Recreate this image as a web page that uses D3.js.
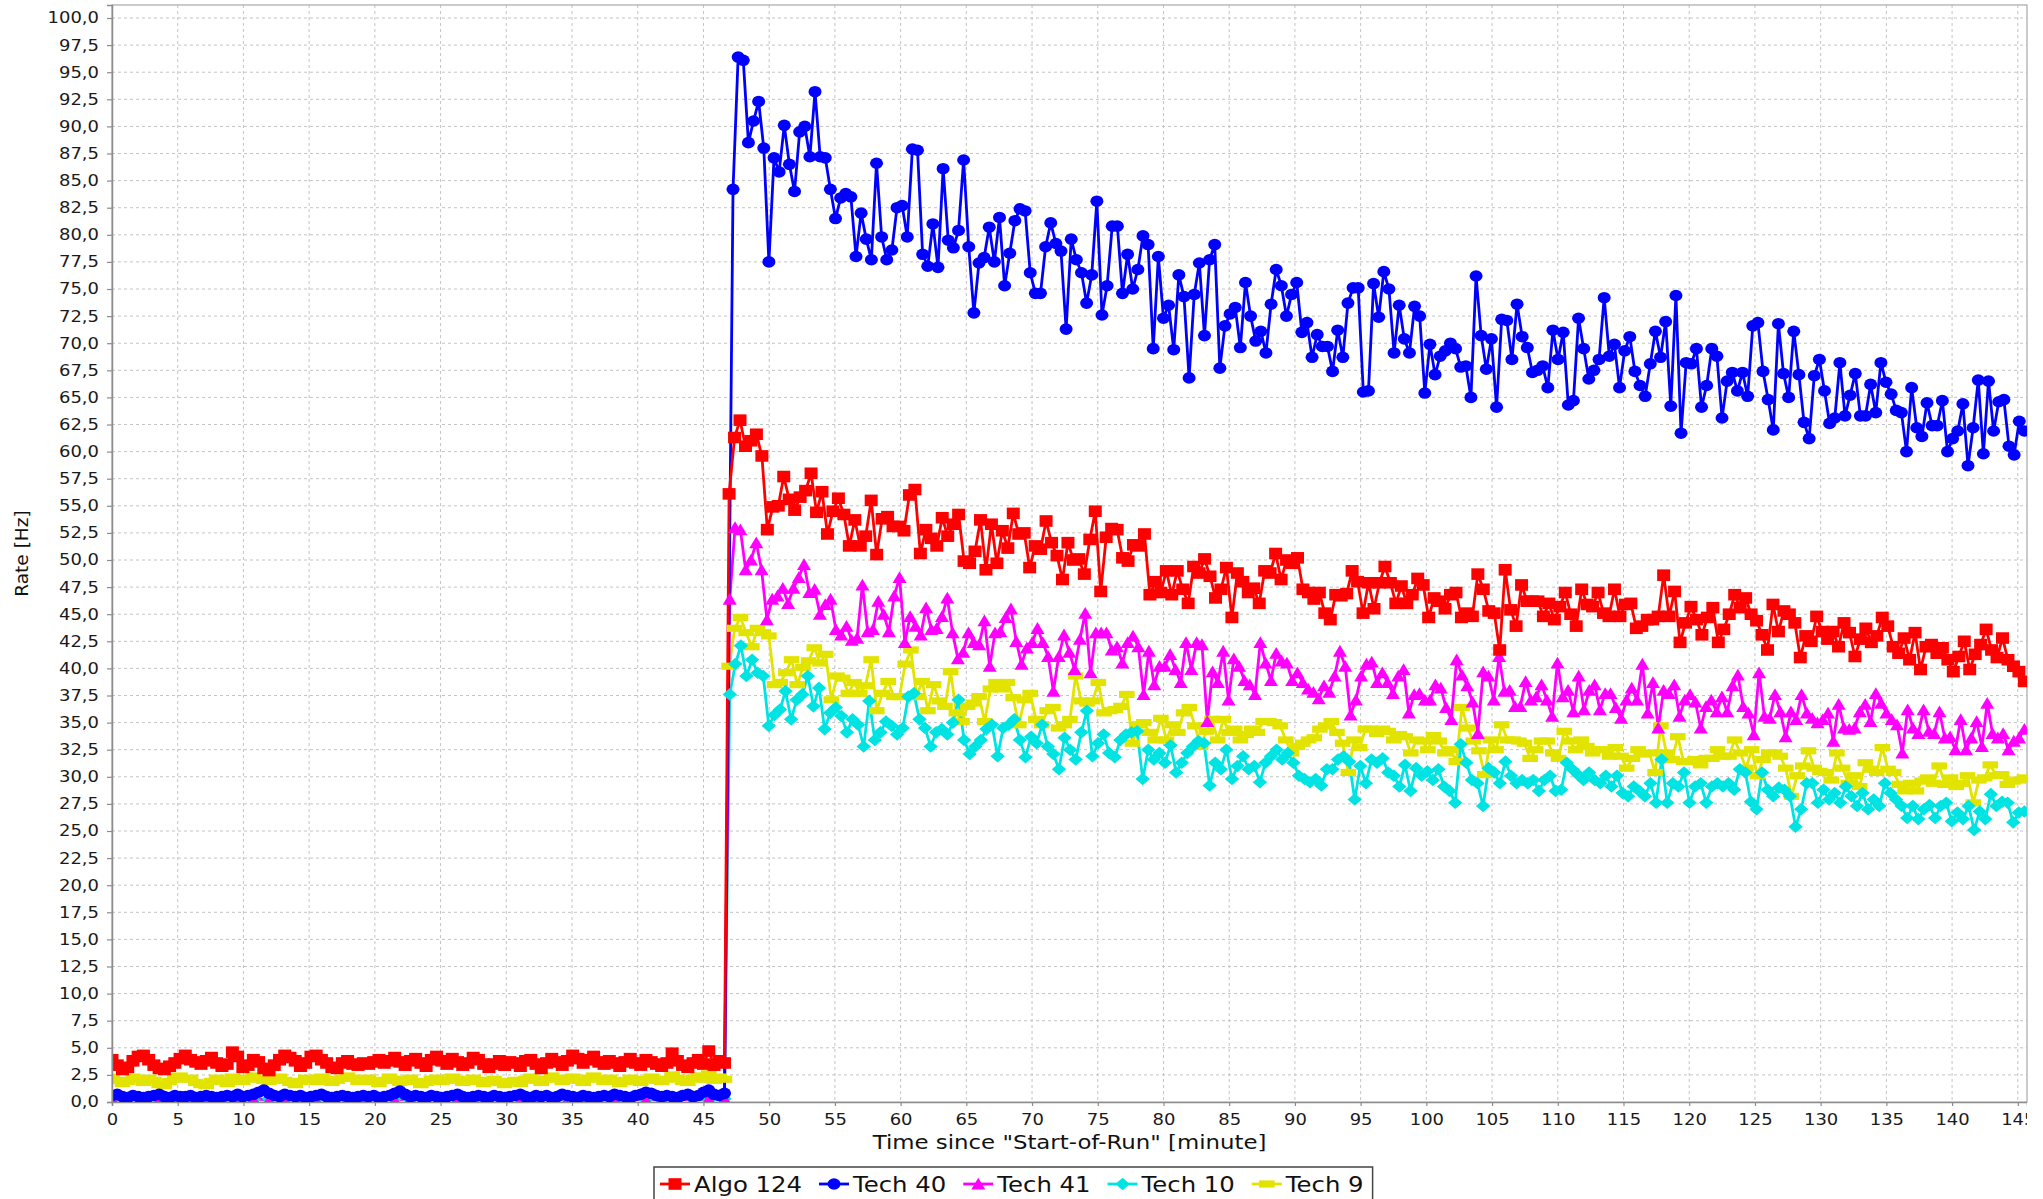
<!DOCTYPE html>
<html>
<head>
<meta charset="utf-8">
<script src="https://cdn.jsdelivr.net/npm/d3@7"></script>
<style>
  body { margin: 0; background: #fff; }
  svg { display: block; font-family: "DejaVu Sans", sans-serif; }
</style>
</head>
<body>
<svg id="chart"></svg>
<script>
// series names and tick labels
const seriesNames = ["Algo 124", "Tech 40", "Tech 41", "Tech 10", "Tech 9"]
const xTicks = d3.range(0, 146, 5)
const yTicks = d3.range(0, 100.01, 2.5)

// time (minute) where the low part ends and where each series' high part starts
const preEnd = 46.6
const postStart = [46.95, 47.25, 47.0, 47.0, 46.95]
const runEnd = 145.5

// Algo 124
const algo124Pre = [3.9, 3.4, 3.0, 3.2, 3.8, 4.2, 4.3, 3.9, 3.4, 3.1, 3.0, 3.3, 3.6, 4.0, 4.3, 3.9, 3.7, 3.5, 3.8, 4.1, 3.6, 3.3, 3.5, 4.6, 4.2, 3.2, 3.4, 3.9, 3.7, 3.1, 2.9, 3.4, 3.9, 4.3, 4.1, 3.8, 3.3, 3.6, 4.2, 4.3, 3.9, 3.6, 3.2, 3.1, 3.6, 3.8, 3.5, 3.4, 3.6, 3.5, 3.7, 3.9, 3.6, 3.8, 4.1, 3.7, 3.4, 3.8, 4.0, 3.6, 3.3, 3.9, 4.2, 3.8, 3.5, 4.0, 3.7, 3.4, 3.6, 4.1, 3.9, 3.5, 3.2, 3.5, 3.8, 3.4, 3.7, 3.6, 3.3, 3.8, 3.9, 3.5, 3.1, 3.6, 4.0, 3.7, 3.4, 3.8, 4.3, 4.0, 3.6, 3.9, 4.2, 3.7, 3.5, 3.8, 3.6, 3.3, 3.7, 4.0, 3.6, 3.4, 3.9, 3.7, 3.5, 3.3, 3.6, 4.5, 3.8, 3.4, 3.2, 3.6, 3.9, 3.5, 4.7, 3.4, 3.8, 3.6]
const algo124Post = [56.1, 61.3, 62.9, 60.5, 61.0, 61.6, 59.6, 52.8, 54.9, 55.0, 57.7, 55.6, 54.6, 55.8, 56.4, 58.0, 54.4, 56.3, 52.4, 54.5, 55.7, 54.2, 51.3, 53.7, 51.3, 52.2, 55.5, 50.5, 53.8, 54.0, 53.1, 53.1, 52.7, 56.0, 56.5, 50.6, 52.8, 52.0, 51.3, 53.9, 52.2, 53.3, 54.2, 49.9, 49.7, 50.8, 53.7, 49.1, 53.3, 49.7, 52.7, 51.1, 54.3, 52.4, 52.5, 49.3, 51.3, 51.0, 53.6, 51.6, 50.4, 48.2, 51.6, 50.0, 50.1, 48.7, 51.9, 54.5, 47.1, 52.1, 52.9, 52.8, 50.2, 49.9, 51.4, 51.3, 52.4, 46.8, 48.0, 47.0, 49.0, 46.8, 49.0, 47.3, 46.0, 49.4, 48.8, 50.1, 48.5, 46.5, 47.3, 49.3, 44.7, 48.8, 48.0, 47.0, 47.4, 46.0, 49.0, 48.8, 50.6, 48.2, 50.0, 49.7, 50.2, 47.3, 47.0, 46.4, 47.0, 45.1, 44.5, 46.8, 46.7, 46.9, 49.0, 48.0, 45.1, 47.9,
  45.5, 47.9, 49.4, 47.9, 46.0, 47.6, 46.0, 46.8, 48.3, 47.7, 44.7, 46.5, 46.2, 45.5, 46.8, 47.0, 44.7, 45.1, 44.8, 48.7, 47.3, 45.3, 45.1, 41.7, 49.1, 45.4, 43.9, 47.7, 46.2, 46.2, 46.2, 44.8, 46.0, 44.5, 45.7, 47.0, 45.0, 43.9, 47.3, 45.9, 45.7, 47.0, 45.1, 44.8, 47.3, 44.8, 45.9, 46.0, 43.7, 43.9, 44.5, 44.5, 44.8, 48.6, 44.8, 47.1, 42.4, 44.2, 45.7, 44.5, 43.1, 44.7, 45.6, 42.4, 43.6, 45.0, 46.8, 45.6, 46.5, 45.0, 44.4, 43.1, 41.7, 45.9, 43.4, 45.3, 45.0, 44.2, 41.0, 43.0, 42.5, 44.8, 43.4, 42.7, 43.4, 42.0, 44.2, 43.3, 41.1, 42.7, 43.7, 42.4, 43.0, 44.7, 43.9, 42.0, 41.4, 42.8, 40.8, 43.3, 39.9, 42.0, 42.2, 41.4, 41.9, 40.8, 39.7, 41.1, 42.5, 39.9, 41.3, 42.2, 43.6, 41.7, 41.0, 42.8, 40.8, 40.2, 39.7, 38.8]

// Tech 40
const tech40Pre = [0.6, 0.7, 0.5, 0.4, 0.6, 0.5, 0.4, 0.5, 0.6, 0.7, 0.5, 0.4, 0.6, 0.5, 0.5, 0.6, 0.4, 0.5, 0.6, 0.5, 0.4, 0.5, 0.6, 0.5, 0.7, 0.5, 0.6, 0.7, 0.9, 1.1, 0.8, 0.6, 0.5, 0.7, 0.6, 0.5, 0.6, 0.4, 0.5, 0.6, 0.7, 0.5, 0.4, 0.5, 0.6, 0.5, 0.4, 0.5, 0.6, 0.5, 0.6, 0.4, 0.5, 0.6, 0.8, 1.0, 0.7, 0.5, 0.6, 0.5, 0.4, 0.6, 0.5, 0.4, 0.5, 0.6, 0.7, 0.5, 0.4, 0.5, 0.6, 0.5, 0.4, 0.6, 0.5, 0.4, 0.5, 0.6, 0.7, 0.5, 0.4, 0.6, 0.5, 0.6, 0.4, 0.5, 0.7, 0.6, 0.5, 0.4, 0.6, 0.5, 0.4, 0.5, 0.6, 0.5, 0.7, 0.6, 0.5, 0.4, 0.6, 0.7, 0.9, 0.8, 0.6, 0.5, 0.6, 0.5, 0.4, 0.6, 0.7, 0.5, 0.6, 0.9, 1.1, 0.7, 0.6, 0.8]
const tech40Post = [84.2, 96.4, 96.1, 88.5, 90.5, 92.3, 88.0, 77.5, 87.1, 85.8, 90.1, 86.5, 84.0, 89.5, 90.0, 87.2, 93.2, 87.2, 87.1, 84.2, 81.5, 83.4, 83.8, 83.5, 78.0, 82.0, 79.6, 77.7, 86.6, 79.8, 77.7, 78.6, 82.5, 82.7, 79.8, 87.9, 87.8, 78.2, 77.1, 81.0, 77.0, 86.1, 79.5, 78.8, 80.4, 86.9, 78.9, 72.8, 77.4, 77.9, 80.7, 77.5, 81.6, 75.3, 78.3, 81.3, 82.4, 82.2, 76.5, 74.6, 74.6, 78.9, 81.1, 79.2, 78.5, 71.3, 79.6, 77.7, 76.5, 73.7, 76.3, 83.1, 72.6, 75.3, 80.8, 80.8, 74.6, 78.2, 75.0, 76.8, 79.9, 79.1, 69.5, 78.0, 72.3, 73.5, 69.4, 76.3, 74.3, 66.8, 74.5, 77.4, 70.7, 77.7, 79.1, 67.7, 71.6, 72.7, 73.3, 69.6, 75.6, 72.5, 70.2, 71.1, 69.1, 73.6, 76.8, 75.3, 72.5, 74.5, 75.6, 71.0, 71.9, 68.7, 70.8, 69.7, 69.7, 67.4, 71.2, 68.7, 73.7, 75.1, 75.1, 65.5, 65.6, 75.5, 72.4, 76.6,
  75.0, 69.1, 73.5, 70.4, 69.1, 73.4, 72.5, 65.4, 69.9, 67.1, 68.8, 69.3, 70.0, 69.5, 67.8, 67.9, 65.0, 76.2, 70.7, 67.6, 70.4, 64.1, 72.2, 72.1, 68.5, 73.6, 70.6, 69.6, 67.3, 67.5, 67.9, 65.9, 71.2, 68.5, 71.0, 64.3, 64.7, 72.3, 69.5, 66.7, 67.5, 68.5, 74.2, 68.8, 69.9, 65.9, 69.3, 70.6, 67.4, 66.1, 65.1, 68.1, 71.1, 68.7, 72.0, 64.2, 74.4, 61.7, 68.2, 68.1, 69.5, 64.1, 66.1, 69.5, 68.8, 63.1, 66.5, 67.3, 65.6, 67.3, 65.1, 71.6, 71.9, 67.4, 64.8, 62.0, 71.8, 67.2, 65.0, 71.1, 67.1, 62.7, 61.2, 67.0, 68.5, 65.6, 62.6, 63.1, 68.2, 63.3, 65.2, 67.2, 63.3, 63.3, 66.2, 63.6, 68.2, 66.4, 65.3, 63.8, 63.6, 60.0, 65.9, 62.2, 61.4, 64.5, 62.4, 62.4, 64.7, 60.0, 61.2, 61.9, 64.4, 58.7, 62.2, 66.6, 59.8, 66.5, 61.9, 64.6, 64.8, 60.5, 59.7, 62.8, 61.9]

// Tech 41
const tech41Pre = [0.3, 0.2, 0.3, 0.2, 0.3, 0.4, 0.2, 0.3, 0.2, 0.3, 0.2, 0.3, 0.3, 0.2, 0.4, 0.3, 0.2, 0.3, 0.2, 0.3, 0.3, 0.2, 0.3, 0.4, 0.2, 0.3, 0.2, 0.3, 0.3, 0.2, 0.3, 0.2, 0.4, 0.3, 0.2, 0.3, 0.3, 0.2, 0.3, 0.3]
const tech41Post = [46.4, 53.0, 52.8, 49.1, 50.0, 51.6, 49.1, 44.5, 46.4, 46.7, 47.4, 46.0, 47.4, 48.4, 49.6, 47.0, 47.3, 45.0, 45.9, 46.4, 43.6, 43.1, 43.9, 42.6, 42.8, 47.7, 43.4, 43.6, 46.2, 45.0, 43.4, 46.7, 48.4, 42.4, 44.8, 43.9, 43.1, 45.6, 43.6, 43.7, 44.8, 46.5, 43.3, 40.9, 41.5, 43.3, 42.4, 42.2, 44.4, 40.2, 43.3, 43.4, 44.7, 45.5, 42.5, 40.4, 41.9, 42.4, 43.7, 42.4, 41.1, 37.9, 41.1, 43.1, 41.5, 39.9, 42.7, 45.1, 39.6, 43.3, 43.3, 43.3, 41.7, 42.0, 40.5, 42.4, 43.0, 42.0, 37.6, 41.6, 38.5, 40.2, 40.2, 41.3, 39.9, 38.7, 42.4, 39.9, 42.4, 42.2, 35.1, 39.7, 38.7, 41.6, 37.1, 40.9, 40.2, 38.9, 38.5, 37.6, 42.4, 40.5, 38.9, 41.4, 40.7, 40.5, 38.9, 39.6, 38.7, 38.1, 37.8, 37.2, 38.4, 37.8, 39.3, 41.6, 40.2, 35.7, 37.1,
  39.3, 40.4, 40.6, 38.7, 39.6, 38.7, 37.7, 39.3, 39.9, 35.9, 37.6, 37.7, 37.1, 37.1, 38.5, 38.2, 36.4, 35.3, 40.8, 39.4, 38.4, 36.9, 34.0, 39.7, 39.3, 37.1, 41.1, 37.9, 38.0, 36.5, 36.5, 38.8, 37.1, 37.4, 38.5, 37.1, 35.6, 40.5, 37.4, 38.0, 36.0, 39.3, 36.2, 38.0, 38.5, 36.2, 37.7, 37.7, 36.4, 35.4, 37.1, 38.2, 37.1, 40.4, 35.9, 38.7, 34.5, 38.0, 37.7, 38.5, 35.6, 37.1, 37.6, 36.9, 34.5, 36.5, 37.1, 36.0, 37.4, 36.0, 38.4, 39.4, 36.5, 35.9, 33.9, 39.6, 35.6, 35.4, 37.6, 36.0, 33.7, 36.0, 35.3, 37.6, 35.9, 35.4, 35.0, 35.3, 35.9, 33.3, 36.7, 34.5, 34.4, 34.5, 36.0, 36.7, 35.1, 37.7, 36.8, 35.9, 35.3, 34.8, 32.2, 36.2, 34.5, 34.0, 36.2, 34.2, 34.0, 36.0, 33.6, 33.7, 32.5, 35.3, 32.5, 33.6, 35.1, 32.8, 36.8, 34.0, 33.6, 34.0, 32.5, 33.3, 33.6, 34.4]

// Tech 10
const tech10Pre = [0.2, 0.3, 0.2, 0.2, 0.3, 0.2, 0.3, 0.3, 0.2, 0.2, 0.3, 0.2, 0.3, 0.2, 0.3, 0.3, 0.2, 0.2, 0.3, 0.2, 0.3, 0.2, 0.2, 0.3, 0.3, 0.2, 0.3, 0.2, 0.2, 0.3, 0.2, 0.3, 0.3, 0.2, 0.2, 0.3, 0.2, 0.3, 0.2, 0.3]
const tech10Post = [37.6, 40.4, 42.1, 39.3, 40.8, 39.6, 39.3, 34.7, 35.7, 36.2, 37.9, 35.3, 37.1, 37.6, 39.3, 36.5, 38.2, 34.4, 35.9, 36.4, 35.6, 34.1, 35.3, 34.8, 32.8, 37.0, 33.4, 34.1, 35.1, 34.7, 33.9, 34.5, 37.4, 37.7, 35.3, 34.5, 32.8, 34.1, 34.4, 33.9, 35.0, 37.1, 33.4, 32.1, 32.8, 33.4, 34.4, 34.8, 31.9, 34.5, 34.8, 35.3, 33.4, 31.8, 33.7, 33.1, 34.8, 32.8, 32.1, 30.7, 33.6, 32.5, 31.6, 34.1, 36.1, 31.9, 33.1, 33.9, 32.2, 31.8, 33.4, 33.9, 34.1, 34.2, 29.8, 32.5, 31.6, 32.2, 31.3, 32.9, 30.4, 31.3, 32.2, 32.8, 33.3, 33.1, 29.2, 31.3, 30.7, 32.5, 29.8, 31.0, 31.9, 30.7, 31.0, 29.5, 31.3, 31.9, 32.5, 31.6, 32.2, 31.3, 30.1, 29.8, 29.5, 29.8, 29.2, 30.7, 30.7, 31.6, 31.9, 31.4, 27.9, 31.0,
  29.4, 31.6, 31.3, 31.7, 30.4, 30.1, 29.1, 31.1, 28.7, 30.8, 30.1, 30.5, 29.7, 30.7, 29.1, 28.7, 27.6, 33.0, 31.3, 29.7, 29.4, 27.3, 30.8, 30.4, 29.4, 31.4, 30.1, 29.4, 29.7, 29.4, 29.7, 28.7, 29.7, 30.1, 28.7, 28.8, 31.3, 30.7, 30.2, 29.7, 30.4, 29.7, 29.4, 30.1, 29.1, 30.1, 28.5, 28.2, 29.1, 28.7, 28.2, 29.4, 27.6, 31.6, 27.6, 29.4, 29.1, 30.4, 27.6, 29.1, 29.4, 27.6, 29.1, 29.4, 29.1, 29.4, 28.8, 30.7, 30.4, 27.7, 27.0, 30.4, 28.8, 28.2, 29.0, 28.8, 28.2, 25.4, 27.0, 29.4, 29.4, 27.6, 28.8, 27.9, 28.5, 27.6, 29.1, 28.2, 27.3, 28.5, 27.0, 27.9, 27.3, 29.4, 28.5, 27.9, 27.3, 26.2, 27.3, 26.1, 27.0, 27.4, 26.2, 27.3, 27.6, 25.9, 26.7, 26.1, 27.3, 25.1, 26.8, 26.1, 28.4, 27.3, 27.7, 27.6, 25.8, 26.7, 26.8]

// Tech 9
const tech9Pre = [2.3, 2.0, 1.7, 1.9, 2.3, 2.1, 1.8, 2.2, 2.0, 1.6, 1.5, 1.9, 2.3, 2.4, 2.1, 2.2, 1.8, 1.6, 1.5, 1.9, 2.2, 2.0, 1.7, 2.3, 2.1, 1.9, 2.2, 2.4, 2.1, 2.0, 1.9, 2.1, 2.3, 2.0, 1.8, 1.6, 1.9, 2.2, 2.1, 1.9, 2.3, 2.1, 1.8, 2.0, 2.2, 2.4, 2.2, 1.9, 2.0, 2.2, 1.9, 1.7, 2.0, 2.3, 2.1, 1.8, 2.0, 2.2, 1.9, 1.6, 1.8, 2.1, 2.2, 1.9, 2.0, 2.3, 2.1, 1.8, 1.9, 2.2, 2.0, 1.7, 1.9, 2.1, 1.8, 1.6, 1.9, 2.0, 1.7, 2.1, 2.3, 2.0, 1.8, 2.1, 2.4, 2.2, 1.9, 2.1, 2.3, 2.0, 1.8, 2.2, 2.4, 2.1, 1.9, 2.2, 2.0, 1.7, 1.9, 2.2, 2.0, 1.8, 2.1, 2.3, 2.0, 1.9, 2.1, 2.5, 2.2, 1.9, 1.8, 2.2, 2.4, 2.1, 2.6, 2.0, 2.3, 2.1]
const tech9Post = [40.2, 43.7, 44.7, 43.3, 42.0, 43.7, 43.3, 43.0, 38.5, 38.7, 39.6, 40.8, 38.5, 40.1, 40.7, 41.9, 40.5, 41.3, 37.1, 39.3, 39.1, 37.7, 38.7, 37.7, 38.4, 40.8, 36.1, 37.7, 38.8, 37.4, 37.4, 40.4, 41.7, 37.4, 38.8, 36.1, 38.5, 37.0, 36.5, 39.7, 35.9, 35.1, 36.5, 36.8, 37.4, 35.1, 38.1, 38.7, 38.1, 38.7, 37.3, 34.8, 37.1, 37.7, 35.3, 34.8, 36.1, 36.4, 34.5, 34.8, 35.3, 39.3, 37.0, 36.8, 37.0, 38.7, 35.9, 36.1, 36.2, 36.5, 37.6, 33.1, 34.8, 35.0, 34.1, 33.4, 35.4, 33.4, 34.8, 34.1, 35.9, 36.4, 34.7, 32.8, 34.2, 35.3, 33.4, 35.3, 34.1, 34.4, 33.4, 33.9, 34.4, 34.1, 35.1, 35.1, 35.0, 34.7, 33.4, 32.2, 32.8, 33.1, 33.4, 33.6, 34.4, 34.7, 35.1, 34.1, 33.1, 30.4, 33.4,
  32.7, 34.4, 34.4, 34.0, 34.4, 34.2, 33.4, 33.9, 33.7, 32.2, 33.4, 33.3, 32.5, 33.8, 33.3, 32.2, 32.5, 31.4, 36.4, 34.5, 33.3, 32.4, 30.2, 33.4, 32.5, 34.8, 33.4, 33.4, 33.3, 33.1, 31.7, 32.5, 33.3, 33.3, 32.2, 31.7, 34.2, 33.3, 32.5, 33.4, 32.8, 32.2, 32.5, 32.5, 31.9, 32.7, 31.9, 30.8, 31.7, 32.5, 32.1, 32.2, 30.4, 34.7, 32.2, 31.6, 33.7, 31.4, 31.4, 31.6, 31.1, 31.7, 31.7, 32.5, 31.9, 31.9, 33.4, 32.2, 30.8, 32.5, 30.1, 31.6, 32.2, 32.2, 31.9, 30.8, 28.2, 30.1, 31.0, 32.4, 30.8, 30.5, 30.4, 29.7, 32.2, 30.8, 29.4, 30.1, 29.1, 31.3, 30.7, 30.4, 32.7, 30.7, 30.4, 29.3, 28.7, 29.4, 28.7, 29.6, 29.9, 29.4, 31.0, 29.3, 29.9, 29.1, 29.4, 30.1, 27.6, 29.7, 29.9, 31.1, 30.1, 30.2, 29.3, 29.6, 29.7, 29.9]

const preValues = [algo124Pre, tech40Pre, tech41Pre, tech10Pre, tech9Pre]
const postValues = [algo124Post, tech40Post, tech41Post, tech10Post, tech9Post]

// styles
const colors = ["#ff0000", "#0000ff", "#ff00ff", "#00e3e3", "#e3e300"]
const shapes = [
  "M-6.5,-5.8h13v11.6h-13Z",
  "M-6.5,0a6.5,5.8 0 1,0 13,0a6.5,5.8 0 1,0 -13,0Z",
  "M0,-6.2L7,5.6L-7,5.6Z",
  "M0,-6.3L7.2,0L0,6.3L-7.2,0Z",
  "M-7.8,-3.6h15.6v7.2h-15.6Z"
]
const stretch = 1.16

//set up svg container
const width = 2043
const height = 1199
const plotLeft = 112, plotRight = 2027, plotTop = 5, plotBottom = 1102

const svg = d3.select("#chart")
              .attr("width", width)
              .attr("height", height)

svg.append("rect").attr("width", width).attr("height", height).attr("fill", "#fff")

//scales
const xScale = d3.scaleLinear().domain([0, 145.7]).range([plotLeft, plotRight])
const yScale = d3.scaleLinear().domain([0, 101.2]).range([plotBottom, plotTop])

//build the point lists: evenly spaced times within each part
const series = seriesNames.map((name, s) => {
  const pre = preValues[s], post = postValues[s]
  const prePts = pre.map((v, i) => ({ t: i * preEnd / (pre.length - 1), v }))
  const postPts = post.map((v, i) => ({ t: postStart[s] + i * (runEnd - postStart[s]) / (post.length - 1), v }))
  return { name, color: colors[s], shape: shapes[s], points: prePts.concat(postPts) }
})

//grid
const grid = svg.append("g")
grid.selectAll(".hg").data(yTicks.filter(d => d > 0)).join("line")
    .attr("x1", plotLeft).attr("x2", plotRight)
    .attr("y1", d => yScale(d)).attr("y2", d => yScale(d))
    .attr("stroke", "#c4c4c4").attr("stroke-width", 1).attr("stroke-dasharray", "3,3")
grid.selectAll(".vg").data(xTicks.filter(d => d > 0)).join("line")
    .attr("x1", d => xScale(d)).attr("x2", d => xScale(d))
    .attr("y1", plotTop).attr("y2", plotBottom)
    .attr("stroke", "#c4c4c4").attr("stroke-width", 1).attr("stroke-dasharray", "3,3")

//plot outline
svg.append("rect")
   .attr("x", plotLeft).attr("y", plotTop)
   .attr("width", plotRight - plotLeft).attr("height", plotBottom - plotTop)
   .attr("fill", "none").attr("stroke", "#a8a8a8").attr("stroke-width", 1.2)

//clip for the data
svg.append("clipPath").attr("id", "plotClip")
   .append("rect").attr("x", plotLeft).attr("y", plotTop)
   .attr("width", plotRight - plotLeft).attr("height", plotBottom - plotTop)
svg.append("clipPath").attr("id", "axisClip")
   .append("rect").attr("x", 0).attr("y", 0).attr("width", plotRight).attr("height", height)

const data = svg.append("g").attr("clip-path", "url(#plotClip)")
const line = d3.line().x(d => xScale(d.t)).y(d => yScale(d.v))
const order = series.slice().reverse()

//lines first, then shapes (like the original renderer)
order.forEach(s => {
  data.append("path").datum(s.points)
      .attr("d", line)
      .attr("fill", "none")
      .attr("stroke", s.color)
      .attr("stroke-width", 2.8)
      .attr("stroke-linejoin", "round")
})
order.forEach(s => {
  data.append("g").selectAll("path")
      .data(s.points)
      .join("path")
      .attr("transform", d => `translate(${xScale(d.t)},${yScale(d.v)})`)
      .attr("d", s.shape)
      .attr("fill", s.color)
})

//axes
const fmt = d => d3.format(".1f")(d).replace(".", ",")
const yAxis = d3.axisLeft(yScale).tickValues(yTicks).tickFormat(fmt).tickSize(5).tickPadding(8)
const xAxis = d3.axisBottom(xScale).tickValues(xTicks).tickSize(4).tickPadding(7.6)

const gy = svg.append("g").attr("transform", `translate(${plotLeft},0)`).call(yAxis)
const gx = svg.append("g").attr("transform", `translate(0,${plotBottom})`)
              .attr("clip-path", "url(#axisClip)").call(xAxis)

;[gx, gy].forEach(g => {
  g.select(".domain").attr("stroke", "#8c8c8c").attr("stroke-width", 1.5)
  g.selectAll(".tick line").attr("stroke", "#8c8c8c").attr("stroke-width", 1.2)
  g.selectAll(".tick text").attr("fill", "#1a1a1a").attr("font-size", 15.5)
   .attr("font-family", "DejaVu Sans")
})
gy.selectAll(".tick text")
  .attr("x", 0)
  .attr("transform", `translate(-13,0) scale(${stretch},1)`)
gx.selectAll(".tick text")
  .attr("transform", `scale(${stretch},1)`)

//axis titles
svg.append("text")
   .attr("transform", `translate(${(plotLeft + plotRight) / 2},1149) scale(${stretch},1)`)
   .attr("text-anchor", "middle")
   .attr("font-size", 19.7)
   .attr("fill", "#111")
   .text('Time since "Start-of-Run" [minute]')

svg.append("text")
   .attr("transform", `translate(28,${(plotTop + plotBottom) / 2}) rotate(-90)`)
   .attr("text-anchor", "middle")
   .attr("font-size", 18.5)
   .attr("fill", "#111")
   .text("Rate [Hz]")

//legend
const legend = svg.append("g")
const legendY = 1184
let lx = 660
series.forEach(s => {
  const item = legend.append("g")
  item.append("line")
      .attr("x1", lx).attr("x2", lx + 30)
      .attr("y1", legendY).attr("y2", legendY)
      .attr("stroke", s.color).attr("stroke-width", 2.8)
  item.append("path")
      .attr("transform", `translate(${lx + 15},${legendY})`)
      .attr("d", s.shape).attr("fill", s.color)
  const t = item.append("text")
      .attr("transform", `translate(${lx + 34},1192) scale(${stretch},1)`)
      .attr("font-size", 21)
      .attr("fill", "#111")
      .text(s.name)
  const w = t.node().getComputedTextLength() * stretch
  lx = lx + 34 + w + 17
})
legend.insert("rect", ":first-child")
      .attr("x", 654).attr("y", 1167)
      .attr("width", lx - 17 + 9 - 654).attr("height", 60)
      .attr("fill", "#fff").attr("stroke", "#444").attr("stroke-width", 1.5)
</script>
</body>
</html>
